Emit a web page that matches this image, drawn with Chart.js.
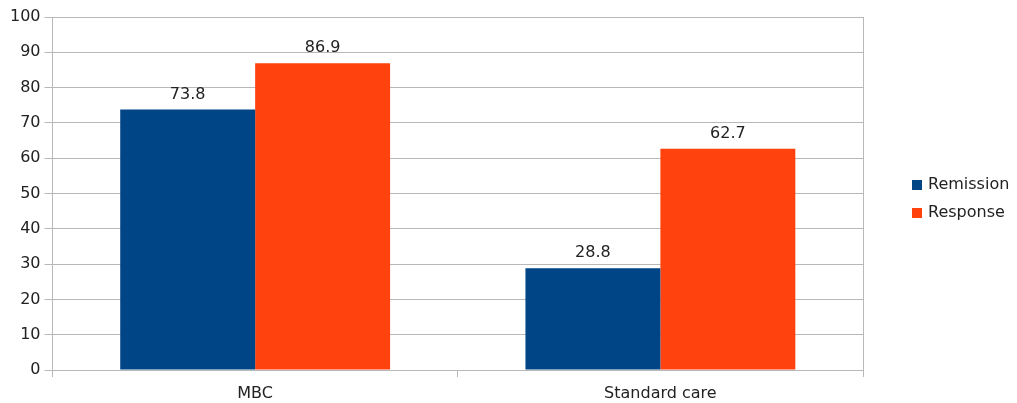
<!DOCTYPE html>
<html>
<head>
<meta charset="utf-8">
<script src="https://cdn.jsdelivr.net/npm/chart.js@4"></script>
<style>
  html, body { margin: 0; padding: 0; background: #fff; }
  #myChart { display: block; }
</style>
</head>
<body>
<canvas id="myChart" width="1017" height="403"></canvas>
<script>
const categories = ['MBC', 'Standard care']
const remission = [73.8, 28.8]
const response = [86.9, 62.7]
const seriesNames = ['Remission', 'Response']
const seriesColors = ['#004586', '#ff420e']

const gridColor = '#b8b8b8'
const textColor = '#222'
const fontFamily = '"DejaVu Sans", sans-serif'

// value labels above every bar
const barLabels = {
    id: 'barLabels',
    afterDatasetsDraw(chart) {
        const ctx = chart.ctx
        ctx.save()
        ctx.font = '16px ' + fontFamily
        ctx.fillStyle = textColor
        ctx.textAlign = 'center'
        ctx.textBaseline = 'bottom'
        chart.data.datasets.forEach((ds, i) => {
            chart.getDatasetMeta(i).data.forEach((bar, j) => {
                ctx.fillText(ds.data[j].toFixed(1), bar.x, bar.y - 7)
            })
        })
        ctx.restore()
    }
}

// legend on the right, outside the plot
const sideLegend = {
    id: 'sideLegend',
    afterDraw(chart) {
        const ctx = chart.ctx
        const x = chart.chartArea.right + 49
        let y = 185
        ctx.save()
        ctx.font = '16px ' + fontFamily
        ctx.textBaseline = 'middle'
        chart.data.datasets.forEach(ds => {
            ctx.fillStyle = ds.backgroundColor
            ctx.fillRect(x, y - 5, 10, 10)
            ctx.fillStyle = textColor
            ctx.fillText(ds.label, x + 16, y)
            y += 28
        })
        ctx.restore()
    }
}

const ctx = document.querySelector('#myChart').getContext('2d')

const myChart = new Chart(ctx, {
    type: 'bar',
    data: {
        labels: categories,
        datasets: [
            { label: seriesNames[0], data: remission, backgroundColor: seriesColors[0] },
            { label: seriesNames[1], data: response, backgroundColor: seriesColors[1] }
        ]
    },
    options: {
        responsive: false,
        animation: false,
        categoryPercentage: 0.666,
        barPercentage: 1.0,
        layout: { padding: { left: 6, right: 146, top: 17, bottom: -8 } },
        plugins: {
            legend: { display: false },
            tooltip: { enabled: false }
        },
        scales: {
            x: {
                grid: { offset: true, drawOnChartArea: false, color: gridColor, tickLength: 7 },
                border: { color: gridColor },
                ticks: { color: textColor, font: { family: fontFamily, size: 16, lineHeight: 1 }, padding: 9 }
            },
            y: {
                min: 0,
                max: 100,
                grid: { color: gridColor, tickLength: 8 },
                border: { color: gridColor },
                ticks: { stepSize: 10, color: textColor, font: { family: fontFamily, size: 16 }, padding: 4 }
            },
            y2: {
                position: 'right',
                min: 0,
                max: 100,
                grid: { display: false },
                border: { color: gridColor },
                ticks: { display: false }
            }
        }
    },
    plugins: [barLabels, sideLegend]
})
</script>
</body>
</html>
